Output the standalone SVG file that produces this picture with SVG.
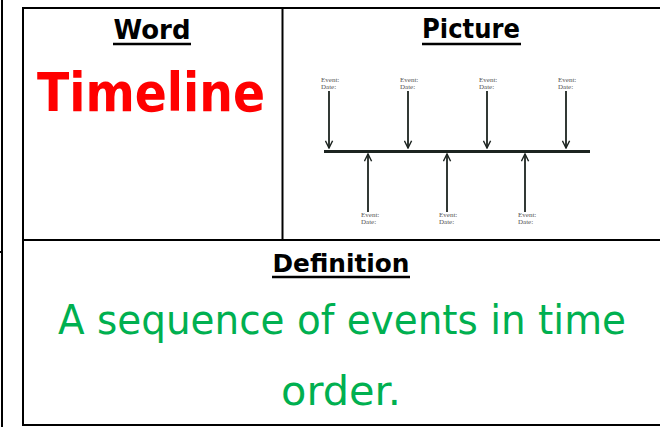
<svg xmlns="http://www.w3.org/2000/svg" width="660" height="427" viewBox="0 0 660 427">
  <defs>
    <style>
      .rule { stroke: #000; stroke-width: 2; fill: none; }
      .head { font-family: "DejaVu Sans", "Liberation Sans", sans-serif; font-weight: bold; fill: #000; }
      .ul { stroke: #000; stroke-width: 2.5; }
      .word { font-family: "DejaVu Sans", "Liberation Sans", sans-serif; font-weight: bold; fill: #FF0000; }
      .def { font-family: "DejaVu Sans", "Liberation Sans", sans-serif; fill: #00B050; }
      .axis { stroke: #1c2420; stroke-width: 3; }
      .shaft { stroke: #1c2420; stroke-width: 1.8; fill: none; }
      .lbl { font-family: "Liberation Serif", "DejaVu Serif", serif; font-size: 7px; fill: #555; }
    </style>
    <marker id="chev" viewBox="0 0 10 10" refX="9" refY="5" markerWidth="9" markerHeight="9" markerUnits="userSpaceOnUse" orient="auto">
      <path d="M1,1 L9,5 L1,9" fill="none" stroke="#1c2420" stroke-width="1.6"/>
    </marker>
  </defs>

  <rect width="660" height="427" fill="#fff"/>

  <!-- edge of the neighbouring table -->
  <g id="edge">
    <line class="rule" x1="2" y1="0" x2="2" y2="427"/>
    <line class="rule" x1="0" y1="252" x2="3" y2="252" stroke-width="1.5"/>
  </g>

  <!-- table frame -->
  <g id="frame">
    <rect class="rule" x="23" y="8" width="640" height="417"/>
    <line class="rule" x1="282.5" y1="8" x2="282.5" y2="240"/>
    <line class="rule" x1="23" y1="240" x2="660" y2="240"/>
  </g>

  <g id="cell-word">
    <text class="head" x="152" y="39" font-size="27" text-anchor="middle" textLength="77" lengthAdjust="spacingAndGlyphs">Word</text>
    <line class="ul" x1="113" y1="44" x2="191" y2="44"/>
    <text class="word" x="37" y="111" font-size="53" textLength="228" lengthAdjust="spacingAndGlyphs">Timeline</text>
  </g>

  <g id="cell-picture">
    <text class="head" x="471" y="38" font-size="27" text-anchor="middle" textLength="98" lengthAdjust="spacingAndGlyphs">Picture</text>
    <line class="ul" x1="422" y1="44" x2="521" y2="44"/>

    <line class="axis" x1="324" y1="151.5" x2="590" y2="151.5"/>

    <g id="labels">
      <text class="lbl" x="321" y="82">Event:</text><text class="lbl" x="321" y="89">Date:</text>
      <text class="lbl" x="400" y="82">Event:</text><text class="lbl" x="400" y="89">Date:</text>
      <text class="lbl" x="479" y="82">Event:</text><text class="lbl" x="479" y="89">Date:</text>
      <text class="lbl" x="558" y="82">Event:</text><text class="lbl" x="558" y="89">Date:</text>
      <text class="lbl" x="361" y="217">Event:</text><text class="lbl" x="361" y="224">Date:</text>
      <text class="lbl" x="439" y="217">Event:</text><text class="lbl" x="439" y="224">Date:</text>
      <text class="lbl" x="518" y="217">Event:</text><text class="lbl" x="518" y="224">Date:</text>
    </g>
  </g>

  <!-- event arrows pointing onto the time axis -->
  <g id="connectors">
    <line class="shaft" x1="329" y1="91" x2="329" y2="148" marker-end="url(#chev)"/>
    <line class="shaft" x1="408" y1="91" x2="408" y2="148" marker-end="url(#chev)"/>
    <line class="shaft" x1="487" y1="91" x2="487" y2="148" marker-end="url(#chev)"/>
    <line class="shaft" x1="566" y1="91" x2="566" y2="148" marker-end="url(#chev)"/>
    <line class="shaft" x1="368" y1="212" x2="368" y2="154" marker-end="url(#chev)"/>
    <line class="shaft" x1="447" y1="212" x2="447" y2="154" marker-end="url(#chev)"/>
    <line class="shaft" x1="525" y1="212" x2="525" y2="154" marker-end="url(#chev)"/>
  </g>

  <g id="cell-definition">
    <text class="head" x="341" y="272" font-size="24" text-anchor="middle" textLength="137" lengthAdjust="spacingAndGlyphs">Definition</text>
    <line class="ul" x1="272" y1="277" x2="410" y2="277"/>
    <text class="def" x="58" y="334" font-size="40" textLength="568" lengthAdjust="spacingAndGlyphs">A sequence of events in time</text>
    <text class="def" x="281" y="405" font-size="40" textLength="120" lengthAdjust="spacingAndGlyphs">order.</text>
  </g>
</svg>
